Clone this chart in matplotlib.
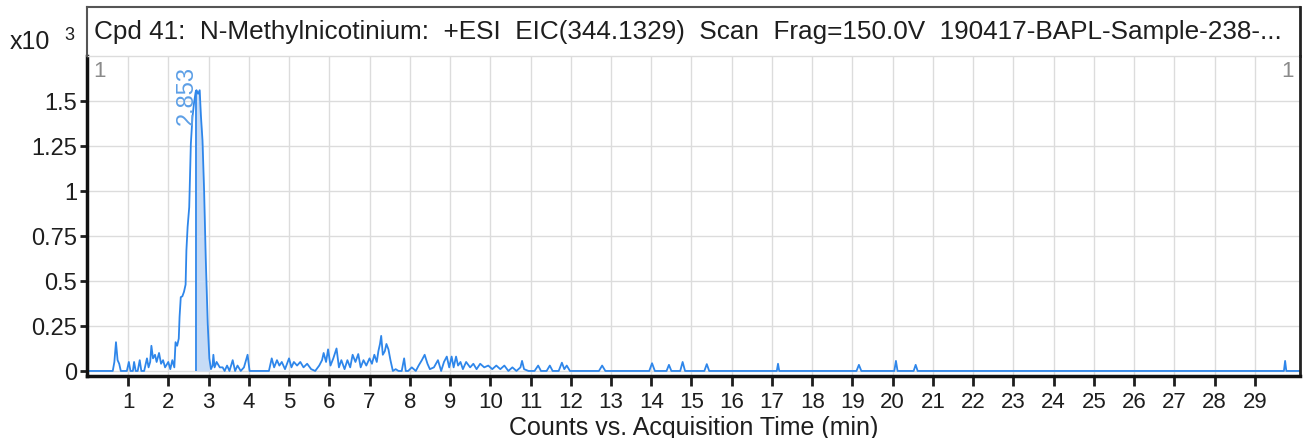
import matplotlib
matplotlib.use('Agg')
import matplotlib.pyplot as plt
from matplotlib.lines import Line2D

plt.rcParams['font.family'] = ['Liberation Sans', 'DejaVu Sans']

# acquisition time (min) and counts (x10^3)
times = [
    0.00, 0.62, 0.66, 0.70, 0.74, 0.78, 0.82, 0.90, 0.97, 1.02, 1.06, 1.12, 1.15, 1.19,
    1.24, 1.29, 1.33, 1.40, 1.47, 1.51, 1.55, 1.58, 1.62, 1.67, 1.71, 1.77, 1.82, 1.87,
    1.92, 2.00, 2.05, 2.10, 2.15, 2.18, 2.22, 2.26, 2.28, 2.31, 2.35, 2.39, 2.43, 2.45,
    2.48, 2.52, 2.56, 2.60, 2.64, 2.68, 2.70, 2.74, 2.78, 2.81, 2.85, 2.89, 2.93, 2.98,
    3.02, 3.06, 3.10, 3.12, 3.15, 3.20, 3.28, 3.35, 3.40, 3.46, 3.52, 3.60, 3.66, 3.72,
    3.80, 3.88, 3.97, 4.02, 4.10, 4.30, 4.50, 4.57, 4.63, 4.70, 4.76, 4.82, 4.90, 5.00,
    5.06, 5.12, 5.20, 5.28, 5.36, 5.45, 5.55, 5.65, 5.75, 5.82, 5.86, 5.92, 5.97, 6.03,
    6.10, 6.18, 6.24, 6.30, 6.38, 6.45, 6.52, 6.58, 6.65, 6.72, 6.78, 6.85, 6.92, 7.00,
    7.06, 7.12, 7.18, 7.22, 7.26, 7.29, 7.33, 7.38, 7.42, 7.47, 7.52, 7.58, 7.65, 7.72,
    7.80, 7.86, 7.90, 7.96, 8.05, 8.15, 8.22, 8.30, 8.37, 8.44, 8.50, 8.60, 8.70, 8.78,
    8.85, 8.92, 8.98, 9.04, 9.09, 9.15, 9.20, 9.26, 9.32, 9.40, 9.50, 9.58, 9.66, 9.75,
    9.85, 9.95, 10.05, 10.15, 10.25, 10.35, 10.45, 10.55, 10.65, 10.75, 10.79, 10.84,
    10.95, 11.10, 11.19, 11.26, 11.40, 11.48, 11.55, 11.70, 11.78, 11.84, 11.90, 11.98,
    12.70, 12.78, 12.86, 13.95, 14.02, 14.09, 14.38, 14.44, 14.50, 14.72, 14.78, 14.84,
    15.32, 15.38, 15.44, 17.12, 17.15, 17.18, 19.10, 19.16, 19.22, 20.04, 20.08, 20.12,
    20.52, 20.57, 20.62, 29.72, 29.75, 29.78, 30.12,
]
counts = [
    0.000, 0.000, 0.050, 0.160, 0.060, 0.040, 0.000, 0.000, 0.000, 0.050, 0.000, 0.000, 0.050, 0.000,
    0.000, 0.060, 0.000, 0.000, 0.070, 0.020, 0.050, 0.140, 0.070, 0.090, 0.050, 0.100, 0.040, 0.060,
    0.020, 0.050, 0.010, 0.060, 0.020, 0.160, 0.140, 0.180, 0.300, 0.410, 0.415, 0.440, 0.480, 0.670,
    0.800, 0.910, 1.260, 1.410, 1.490, 1.550, 1.560, 1.540, 1.560, 1.420, 1.280, 1.000, 0.630, 0.260,
    0.070, 0.010, 0.030, 0.090, 0.020, 0.050, 0.020, 0.020, 0.000, 0.030, 0.000, 0.060, 0.000, 0.030,
    0.000, 0.020, 0.090, 0.000, 0.000, 0.000, 0.000, 0.070, 0.020, 0.060, 0.030, 0.050, 0.010, 0.070,
    0.020, 0.050, 0.030, 0.050, 0.020, 0.040, 0.010, 0.000, 0.030, 0.060, 0.100, 0.050, 0.120, 0.030,
    0.070, 0.125, 0.020, 0.060, 0.010, 0.060, 0.020, 0.090, 0.050, 0.094, 0.020, 0.060, 0.030, 0.070,
    0.040, 0.090, 0.050, 0.110, 0.150, 0.195, 0.090, 0.110, 0.150, 0.120, 0.060, 0.000, 0.010, 0.000,
    0.000, 0.070, 0.000, 0.000, 0.020, 0.000, 0.030, 0.060, 0.090, 0.040, 0.010, 0.020, 0.060, 0.000,
    0.050, 0.080, 0.020, 0.080, 0.020, 0.080, 0.030, 0.050, 0.010, 0.050, 0.020, 0.040, 0.010, 0.040,
    0.020, 0.030, 0.010, 0.030, 0.010, 0.030, 0.000, 0.020, 0.000, 0.020, 0.056, 0.010,
    0.000, 0.000, 0.030, 0.000, 0.000, 0.030, 0.000, 0.000, 0.046, 0.010, 0.030, 0.000,
    0.000, 0.030, 0.000, 0.000, 0.043, 0.000, 0.000, 0.034, 0.000, 0.000, 0.050, 0.000,
    0.000, 0.038, 0.000, 0.000, 0.040, 0.000, 0.000, 0.034, 0.000, 0.000, 0.056, 0.000,
    0.000, 0.034, 0.000, 0.000, 0.056, 0.000, 0.000,
]

# integrated peak window
peak_start = 2.70
peak_end = 3.04
peak_label = '2.853'

title = ('Cpd 41:  N-Methylnicotinium:  +ESI  EIC(344.1329)  Scan  '
         'Frag=150.0V  190417-BAPL-Sample-238-...')
y_ticks = [0, 0.25, 0.5, 0.75, 1, 1.25, 1.5]
y_tick_labels = ['0', '0.25', '0.5', '0.75', '1', '1.25', '1.5']
x_ticks = list(range(1, 30))

line_color = '#2e86ea'
fill_color = '#c6dbf6'
text_color = '#1e1e1e'

W, H = 1310, 439
fig = plt.figure(figsize=(W / 100, H / 100), dpi=100)
ax = fig.add_axes([87 / W, 62 / H, (1300 - 87) / W, (377 - 57) / H])

ax.plot(times, counts, color=line_color, linewidth=1.3)
in_peak = [(t, c) for t, c in zip(times, counts) if peak_start <= t <= peak_end]
ax.fill_between([p[0] for p in in_peak], [p[1] for p in in_peak], 0,
                color=fill_color, linewidth=0)
ax.vlines(peak_start, 0, 1.56, color=line_color, linewidth=1.3)

ax.text(2.47, 1.37, peak_label, rotation=90, color='#5d9fe6', fontsize=17,
        ha='center', va='bottom')
ax.text(0.3, 1.67, '1', color='#8a8a8a', fontsize=16, ha='center', va='center')
ax.text(29.8, 1.67, '1', color='#8a8a8a', fontsize=16, ha='center', va='center')

ax.set_xlim(-0.02, 30.12)
ax.set_ylim(-0.028, 1.75)
ax.set_xticks(x_ticks)
ax.set_xticklabels([str(v) for v in x_ticks])
ax.set_yticks(y_ticks)
ax.set_yticklabels(y_tick_labels)
ax.grid(True, color='#dcdcdc', linewidth=1)
ax.set_axisbelow(True)
ax.tick_params(axis='x', direction='out', length=7, width=2, colors=text_color,
               labelsize=16, pad=4)
ax.tick_params(axis='y', direction='out', length=5, width=2, colors=text_color,
               labelsize=17, pad=2)
for side in ['left', 'bottom']:
    ax.spines[side].set_linewidth(2.5)
    ax.spines[side].set_color('#111111')
ax.spines['right'].set_linewidth(2)
ax.spines['right'].set_color('#222222')
ax.spines['top'].set_color('#dcdcdc')
ax.spines['top'].set_linewidth(1)
ax.set_xlabel('Counts vs. Acquisition Time (min)', fontsize=18, color=text_color,
              labelpad=2)

# title box above the plot: top, left and right borders only
x0, x1 = 87 / W, 1300 / W
y_top, y_bot = 1 - 8 / H, 1 - 57 / H
fig.lines.append(Line2D([x0, x1], [y_top, y_top], transform=fig.transFigure,
                        color='#555555', linewidth=1.5))
fig.lines.append(Line2D([x0, x0], [y_bot, y_top], transform=fig.transFigure,
                        color='#555555', linewidth=1.5))
fig.lines.append(Line2D([x1, x1], [y_bot, y_top], transform=fig.transFigure,
                        color='#222222', linewidth=2))
fig.text(94 / W, 1 - 32 / H, title, fontsize=18.8, color=text_color, va='center', ha='left')
fig.text(10 / W, 1 - 42 / H, 'x10', fontsize=18, color=text_color, va='center', ha='left')
fig.text(64 / W, 1 - 35 / H, '3', fontsize=13, color=text_color, va='center', ha='left')

fig.savefig('out.png', dpi=100)
